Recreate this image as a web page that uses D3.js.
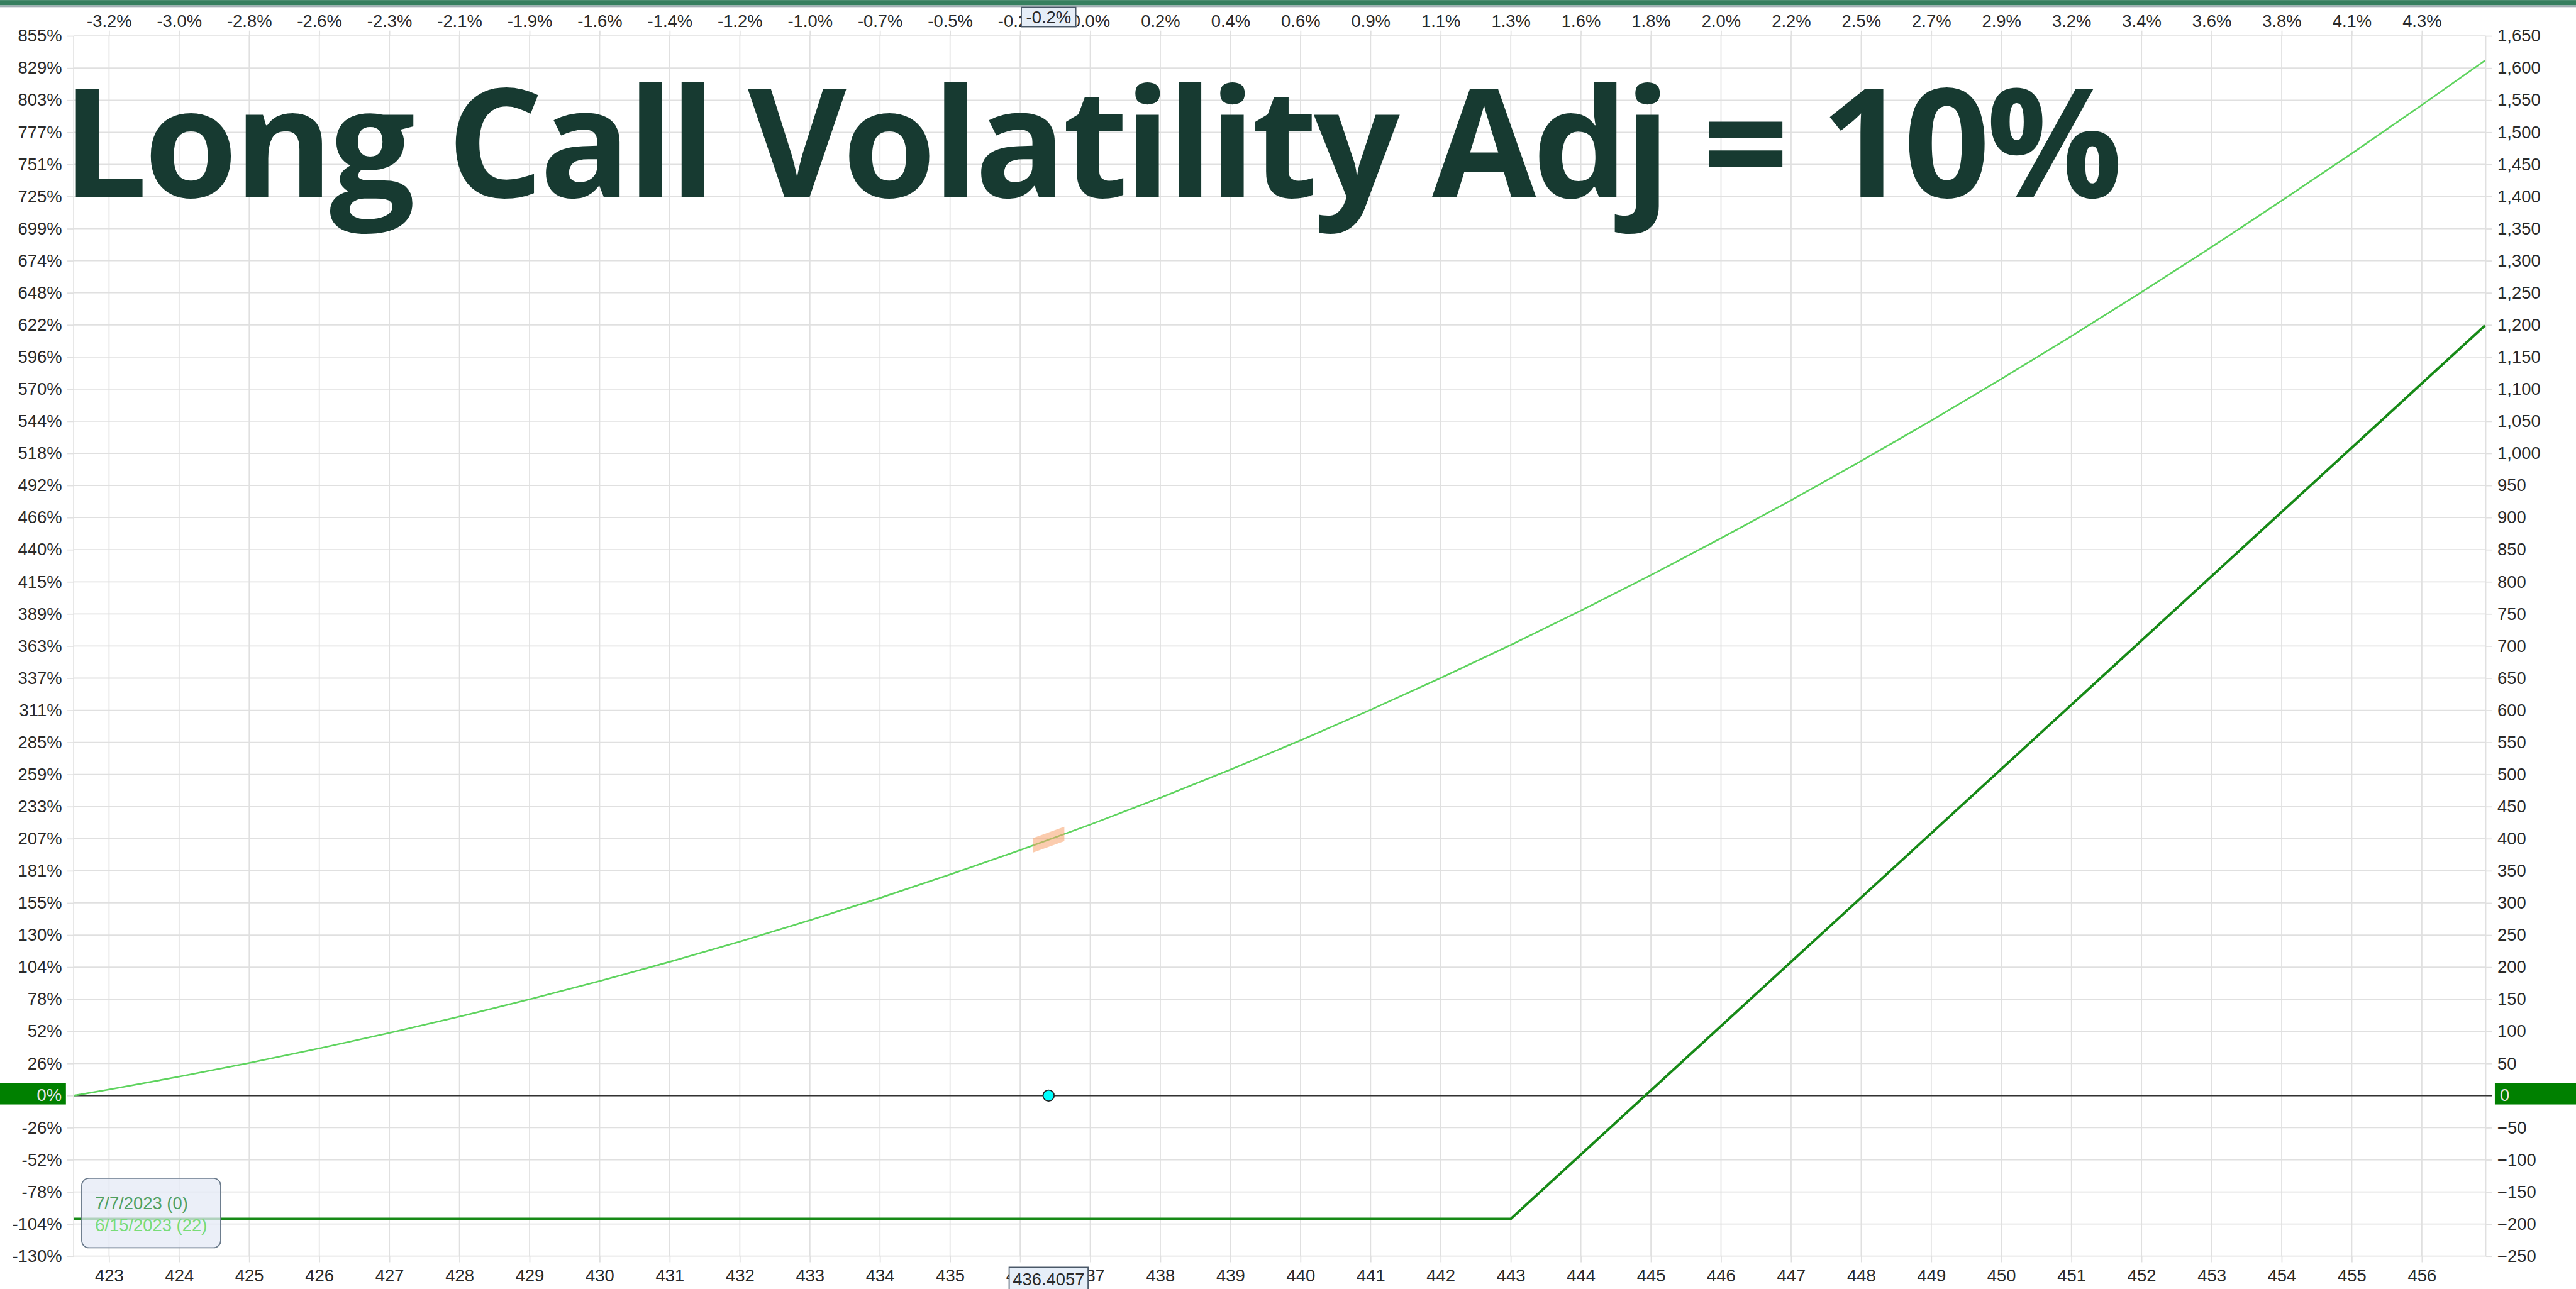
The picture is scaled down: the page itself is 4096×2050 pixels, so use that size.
<!DOCTYPE html>
<html>
<head>
<meta charset="utf-8">
<script src="https://cdn.jsdelivr.net/npm/d3@7"></script>
<style>
  html, body { margin: 0; padding: 0; background: #fff; overflow: hidden; }
  svg { display: block; }
</style>
</head>
<body>
<div id="chart"></div>
<script>
// chart values
let prices = [423, 424, 425, 426, 427, 428, 429, 430, 431, 432, 433, 434, 435, 436, 437, 438, 439,
  440, 441, 442, 443, 444, 445, 446, 447, 448, 449, 450, 451, 452, 453, 454, 455, 456];
let pctLabels = ["-3.2%", "-3.0%", "-2.8%", "-2.6%", "-2.3%", "-2.1%", "-1.9%", "-1.6%", "-1.4%", "-1.2%",
  "-1.0%", "-0.7%", "-0.5%", "-0.2%", "0.0%", "0.2%", "0.4%", "0.6%", "0.9%", "1.1%", "1.3%", "1.6%",
  "1.8%", "2.0%", "2.2%", "2.5%", "2.7%", "2.9%", "3.2%", "3.4%", "3.6%", "3.8%", "4.1%", "4.3%"];
let dollarTicks = [1650, 1600, 1550, 1500, 1450, 1400, 1350, 1300, 1250, 1200, 1150, 1100, 1050, 1000,
  950, 900, 850, 800, 750, 700, 650, 600, 550, 500, 450, 400, 350, 300, 250, 200, 150, 100, 50, 0,
  -50, -100, -150, -200, -250];
let costPctLabels = ["855%", "829%", "803%", "777%", "751%", "725%", "699%", "674%", "648%", "622%",
  "596%", "570%", "544%", "518%", "492%", "466%", "440%", "415%", "389%", "363%", "337%", "311%",
  "285%", "259%", "233%", "207%", "181%", "155%", "130%", "104%", "78%", "52%", "26%", "0%",
  "-26%", "-52%", "-78%", "-104%", "-130%"];

// 7/7/2023 (expiration) P&L
let expiryPrices = [422.5, 443, 456.9];
let expiryPnl = [-192, -192, 1199];

// 6/15/2023 (22 days) P&L
let t0Prices = [422.5, 423, 424, 425, 426, 427, 428, 429, 430, 431, 432, 433, 434, 435, 436, 437, 438,
  439, 440, 441, 442, 443, 444, 445, 446, 447, 448, 449, 450, 451, 452, 453, 454, 455, 456, 456.9];
let t0Pnl = [0, 9.5, 29.5, 50.8, 73.5, 97.5, 123, 149.9, 178.3, 208.3, 239.8, 273, 307.7, 344.2, 382.3,
  422, 463.8, 507.5, 553.1, 600.7, 650.3, 701.7, 755.1, 810.5, 867.8, 927, 988.1, 1051.1, 1115.9,
  1182.6, 1251.1, 1321.3, 1393.4, 1467, 1542.4, 1611.7];

let spot = 436.4057;
let spotPct = "-0.2%";
let legendLabels = ["7/7/2023 (0)", "6/15/2023 (22)"];
let title = "Long Call Volatility Adj = 10%";

let W = 4634, H = 2319;
let font = "'Liberation Sans', Arial, sans-serif";
let fontSize = 31;
let gridColor = "#e0e0e0";
let textColor = "#2a2a2a";

let svg = d3.select("#chart")
  .append("svg")
  .attr("width", 4096)
  .attr("height", 2050)
  .attr("viewBox", "0 0 " + W + " " + H);

svg.append("rect").attr("width", W).attr("height", H).attr("fill", "#fff");

// top bar
svg.append("rect").attr("x", 0).attr("y", 0).attr("width", W).attr("height", 9.5).attr("fill", "#367f5f");
svg.append("rect").attr("x", 0).attr("y", 9.5).attr("width", W).attr("height", 3.2).attr("fill", "#a2acb4");

let x = d3.scaleLinear().domain([422.495, 456.912]).range([132.5, 4471.7]);
let y = d3.scaleLinear().domain([-250, 1650]).range([2260, 64.5]);

// grid
let grid = svg.append("g").attr("class", "grid");
grid.selectAll("line.h")
  .data(dollarTicks)
  .join("line")
  .attr("class", "h")
  .attr("x1", x.range()[0]).attr("x2", x.range()[1])
  .attr("y1", d => y(d)).attr("y2", d => y(d))
  .attr("stroke", gridColor).attr("stroke-width", 2);
grid.selectAll("line.v")
  .data(prices)
  .join("line")
  .attr("class", "v")
  .attr("x1", d => x(d)).attr("x2", d => x(d))
  .attr("y1", y.range()[1]).attr("y2", y.range()[0])
  .attr("stroke", gridColor).attr("stroke-width", 2);
grid.selectAll("line.edge")
  .data(x.range())
  .join("line")
  .attr("class", "edge")
  .attr("x1", d => d).attr("x2", d => d)
  .attr("y1", y.range()[1]).attr("y2", y.range()[0])
  .attr("stroke", gridColor).attr("stroke-width", 2);

function styleAxis(g) {
  g.select(".domain").remove();
  g.selectAll(".tick line").attr("stroke", gridColor).attr("stroke-width", 2);
  g.selectAll(".tick text")
    .attr("fill", textColor)
    .style("font-family", font)
    .style("font-size", fontSize + "px");
}

// left axis: % of cost
svg.append("g")
  .attr("transform", "translate(" + x.range()[0] + ",0)")
  .call(d3.axisLeft(y).tickValues(dollarTicks).tickSize(12).tickPadding(9)
    .tickFormat((d, i) => costPctLabels[i]))
  .call(styleAxis);

// right axis: dollars
svg.append("g")
  .attr("transform", "translate(" + x.range()[1] + ",0)")
  .call(d3.axisRight(y).tickValues(dollarTicks).tickSize(11).tickPadding(10)
    .tickFormat(d3.format(",")))
  .call(styleAxis);

// bottom axis: prices
svg.append("g")
  .attr("transform", "translate(0," + y.range()[0] + ")")
  .call(d3.axisBottom(x).tickValues(prices).tickSize(11).tickPadding(12).tickFormat(d3.format("d")))
  .call(styleAxis);

// top axis: % change
svg.append("g")
  .attr("transform", "translate(0," + y.range()[1] + ")")
  .call(d3.axisTop(x).tickValues(prices).tickSize(9.5).tickPadding(7)
    .tickFormat((d, i) => pctLabels[i]))
  .call(styleAxis);

// zero line
svg.append("line")
  .attr("x1", x.range()[0]).attr("x2", x.range()[1] + 11)
  .attr("y1", y(0)).attr("y2", y(0))
  .attr("stroke", "#333").attr("stroke-width", 2.7);

// lines
let line = d3.line().x(d => x(d[0])).y(d => y(d[1]));

svg.append("path")
  .datum(d3.zip(t0Prices, t0Pnl))
  .attr("d", line.curve(d3.curveMonotoneX))
  .attr("fill", "none")
  .attr("stroke", "#5ed35e")
  .attr("stroke-width", 3);

svg.append("path")
  .datum(d3.zip(expiryPrices, expiryPnl))
  .attr("d", d3.line().x(d => x(d[0])).y(d => y(d[1])))
  .attr("fill", "none")
  .attr("stroke", "#178a17")
  .attr("stroke-width", 4.5)
  .attr("stroke-linejoin", "round");

// orange marker on the 22-day curve at spot
let bi = d3.bisectLeft(t0Prices, spot);
let slope = (t0Pnl[bi] - t0Pnl[bi - 1]) / (t0Prices[bi] - t0Prices[bi - 1]);
let spotVal = t0Pnl[bi - 1] + slope * (spot - t0Prices[bi - 1]);
let half = 0.225, hh = 13;
let p1 = [x(spot - half), y(spotVal - slope * half)];
let p2 = [x(spot + half), y(spotVal + slope * half)];
svg.append("path")
  .attr("d", "M" + p1[0] + "," + (p1[1] - hh) + "L" + p2[0] + "," + (p2[1] - hh) +
    "L" + p2[0] + "," + (p2[1] + hh) + "L" + p1[0] + "," + (p1[1] + hh) + "Z")
  .attr("fill", "#f7a36b")
  .attr("fill-opacity", 0.55);

// spot dot
svg.append("circle")
  .attr("cx", x(spot)).attr("cy", y(0)).attr("r", 10)
  .attr("fill", "#00ffff").attr("stroke", "#222").attr("stroke-width", 2);

// zero highlight boxes
svg.append("rect").attr("x", 0).attr("y", y(0) - 23).attr("width", 118.6).attr("height", 39)
  .attr("fill", "#008000");
svg.append("text").attr("x", 111).attr("y", y(0) + 10).attr("text-anchor", "end")
  .attr("fill", "#e8e8e8").style("font-family", font).style("font-size", fontSize + "px").text("0%");
svg.append("rect").attr("x", 4488).attr("y", y(0) - 23).attr("width", 146).attr("height", 39)
  .attr("fill", "#008000");
svg.append("text").attr("x", 4497).attr("y", y(0) + 10)
  .attr("fill", "#e8e8e8").style("font-family", font).style("font-size", fontSize + "px").text("0");

// spot boxes
svg.append("rect").attr("x", x(spot) - 49).attr("y", 13).attr("width", 98).attr("height", 35)
  .attr("fill", "#e6eef8").attr("stroke", "#4a5868").attr("stroke-width", 2);
svg.append("text").attr("x", x(spot)).attr("y", 42).attr("text-anchor", "middle")
  .attr("fill", textColor).style("font-family", font).style("font-size", fontSize + "px").text(spotPct);
svg.append("rect").attr("x", x(spot) - 71).attr("y", 2280).attr("width", 142).attr("height", 50)
  .attr("fill", "#e6eef8").attr("stroke", "#4a5868").attr("stroke-width", 2);
svg.append("text").attr("x", x(spot)).attr("y", 2312).attr("text-anchor", "middle")
  .attr("fill", textColor).style("font-family", font).style("font-size", fontSize + "px").text(spot);

// legend
let legend = svg.append("g").attr("class", "legend");
legend.append("rect")
  .attr("x", 147).attr("y", 2120).attr("width", 250).attr("height", 125).attr("rx", 13)
  .attr("fill", "#e4eaf5").attr("fill-opacity", 0.75)
  .attr("stroke", "#6b7b8c").attr("stroke-width", 2);
legend.selectAll("text")
  .data(legendLabels)
  .join("text")
  .attr("x", 171)
  .attr("y", (d, i) => 2175 + i * 40)
  .attr("fill", (d, i) => i === 0 ? "#4f9f5f" : "#78dc78")
  .style("font-family", font)
  .style("font-size", fontSize + "px")
  .text(d => d);

// title
svg.append("text")
  .attr("x", 112)
  .attr("y", 355)
  .attr("fill", "#173a31")
  .style("font-family", "'Open Sans', 'Noto Sans', sans-serif")
  .style("font-weight", 700)
  .style("font-size", "272px")
  .style("letter-spacing", "-6.6px")
  .text(title);
</script>
</body>
</html>
